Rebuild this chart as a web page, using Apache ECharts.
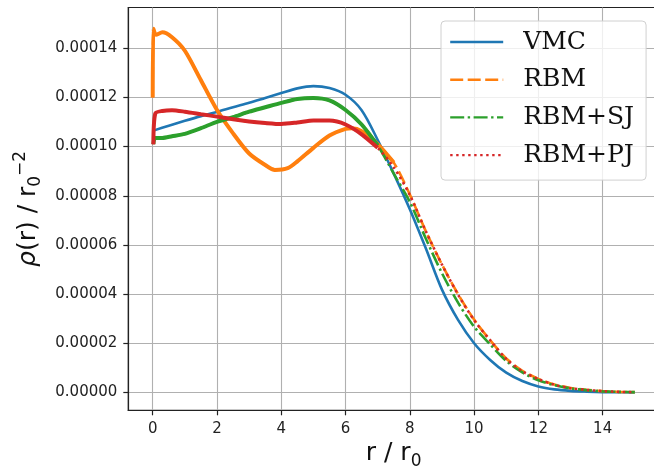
<!DOCTYPE html>
<html><head><meta charset="utf-8">
<script src="https://cdn.jsdelivr.net/npm/echarts@6/dist/echarts.min.js"></script>
<style>html,body{margin:0;padding:0;background:#fff}#c{width:654px;height:468px}</style>
</head><body><div id="c"></div>
<script>
// ---- data ----
const seriesNames = ['VMC', 'RBM', 'RBM+SJ', 'RBM+PJ'];
const xTicks = [0, 2, 4, 6, 8, 10, 12, 14];
const yTicks = [0, 0.00002, 0.00004, 0.00006, 0.00008, 0.0001, 0.00012, 0.00014];

const vmcR   = [0.02, 0.5, 1, 1.5, 2, 2.5, 3, 3.5, 4, 4.5, 5, 5.5, 6, 6.5, 7, 7.5, 8, 8.5, 9, 9.5, 10, 10.5, 11, 11.5, 12, 12.5, 13, 13.5, 14, 14.5, 15];
const vmcRho = [0.0001065, 0.0001085, 0.0001105, 0.0001124, 0.0001141, 0.000116, 0.0001178, 0.0001198, 0.0001218, 0.0001237, 0.0001246, 0.0001238, 0.0001211, 0.0001148, 0.0001027, 0.000089, 0.0000745, 0.0000585, 0.0000418, 0.0000295, 0.00002, 0.0000132, 0.000008, 0.0000046, 0.0000024, 0.0000012, 0.0000006, 0.0000003, 0.0000001, 0.00000005, 0.0];

const rbmR   = [0, 0.02, 0.1, 0.3, 0.6, 1, 1.5, 2, 2.5, 3, 3.5, 3.8, 4.2, 4.5, 5, 5.5, 6, 6.2, 6.5, 7, 7.5, 8, 8.5, 9, 9.5, 10, 10.5, 11, 11.5, 12, 12.5, 13, 13.5, 14, 14.5, 15];
const rbmRho = [0.00012, 0.000148, 0.0001455, 0.0001465, 0.0001445, 0.000139, 0.000127, 0.0001149, 0.0001054, 0.0000972, 0.0000925, 0.0000905, 0.0000912, 0.000094, 0.0000995, 0.0001045, 0.0001072, 0.0001075, 0.0001063, 0.000101, 0.0000935, 0.0000805, 0.0000655, 0.000052, 0.00004, 0.0000296, 0.0000212, 0.0000138, 0.0000088, 0.0000055, 0.0000032, 0.0000018, 0.000001, 0.0000005, 0.0000002, 0.0000001];

const sjR   = [0.02, 0.07, 0.3, 0.6, 1, 1.5, 2, 2.5, 3, 3.5, 4, 4.5, 5, 5.5, 6, 6.5, 7, 7.5, 8, 8.5, 9, 9.5, 10, 10.5, 11, 11.5, 12, 12.5, 13, 13.5, 14, 14.5, 15];
const sjRho = [0.000101, 0.0001035, 0.0001035, 0.0001042, 0.0001052, 0.0001075, 0.0001101, 0.000112, 0.0001142, 0.000116, 0.0001178, 0.0001194, 0.0001198, 0.0001188, 0.0001149, 0.000109, 0.0001005, 0.000089, 0.0000775, 0.0000625, 0.0000485, 0.0000365, 0.0000267, 0.0000195, 0.0000128, 0.0000081, 0.0000049, 0.0000029, 0.0000016, 0.0000009, 0.0000004, 0.0000002, 0.0000001];

const pjR   = [0.02, 0.08, 0.3, 0.6, 1, 1.5, 2, 2.5, 3, 3.5, 4, 4.5, 5, 5.5, 6, 6.5, 7, 7.5, 8, 8.5, 9, 9.5, 10, 10.5, 11, 11.5, 12, 12.5, 13, 13.5, 14, 14.5, 15];
const pjRho = [0.000101, 0.0001135, 0.0001145, 0.0001148, 0.0001142, 0.0001132, 0.0001122, 0.0001111, 0.0001102, 0.0001096, 0.0001092, 0.0001098, 0.0001106, 0.0001106, 0.000109, 0.000105, 0.0000995, 0.0000915, 0.0000803, 0.0000655, 0.000052, 0.0000398, 0.0000294, 0.0000212, 0.0000136, 0.0000086, 0.0000054, 0.0000031, 0.0000017, 0.000001, 0.0000005, 0.0000002, 0.0000001];

// ---- styling ----
const colors = ['#1f77b4', '#ff7f0e', '#2ca02c', '#d62728'];
function pairs(r, v, lo, hi) {
  const out = [];
  for (let i = 0; i < r.length; i++) if (r[i] >= lo && r[i] <= hi) out.push([r[i], v[i]]);
  return out;
}
function line(name, data, color, width, type, z, smooth) {
  return {
    name: name, type: 'line', data: data,
    symbol: 'none', showSymbol: false,
    smooth: smooth,
    lineStyle: { color: color, width: width, type: type, cap: 'butt' },
    itemStyle: { color: color }, z: z, animation: false, silent: true
  };
}
const series = [
  line('VMC', pairs(vmcR, vmcRho, 0, 15), colors[0], 2.6, 'solid', 2, 0.3),
  line('RBM_band', pairs(rbmR, rbmRho, 0, 7.6), colors[1], 4, 'solid', 3, 0.25),
  line('RBM', pairs(rbmR, rbmRho, 0, 15), colors[1], 2.6, [13, 4.5], 3, 0.3),
  line('SJ_band', pairs(sjR, sjRho, 0, 7.4), colors[2], 4, 'solid', 4, 0.25),
  line('RBM+SJ', pairs(sjR, sjRho, 0, 15), colors[2], 2.6, [14, 3.5, 2.4, 3.5], 4, 0.3),
  line('PJ_band', pairs(pjR, pjRho, 0, 7.3), colors[3], 4, 'solid', 5, 0.25),
  line('RBM+PJ', pairs(pjR, pjRho, 0, 15), colors[3], 2.6, [2.4, 3.6], 5, 0.3)
];

const chart = echarts.init(document.getElementById('c'), null, { renderer: 'canvas' });
const tickFont = { fontFamily: 'DejaVu Sans', fontSize: 15, color: '#222' };
chart.setOption({
  animation: false,
  backgroundColor: '#fff',
  grid: {
    left: 128.3, top: 7.5, width: 530.6, height: 402.8,
    containLabel: false, outerBoundsMode: 'none',
    show: true, borderColor: '#222', borderWidth: 1.2, backgroundColor: 'transparent'
  },
  legend: {
    data: seriesNames,
    orient: 'vertical', left: 441, top: 21,
    padding: [6, 12, 10, 8],
    itemWidth: 53, itemHeight: 14, itemGap: 7.7,
    itemStyle: { opacity: 0, color: 'rgba(0,0,0,0)', borderColor: 'rgba(0,0,0,0)', borderWidth: 0 },
    lineStyle: { width: 2.4 },
    backgroundColor: 'rgba(255,255,255,0.8)', borderColor: '#d0d0d0', borderWidth: 1, borderRadius: 4,
    textStyle: { fontFamily: 'DejaVu Serif', fontSize: 25, color: '#111', lineHeight: 30, padding: [0, 0, 0, 15] },
    selectedMode: false, z: 20
  },
  xAxis: {
    type: 'value', min: -0.76, max: 15.75, splitNumber: 8,
    axisLine: { show: true, onZero: false, lineStyle: { color: '#222', width: 1.2 } },
    axisTick: { show: true, inside: false, length: 5, lineStyle: { color: '#222', width: 1.2 }, customValues: xTicks },
    axisLabel: { show: true, margin: 11, ...tickFont, customValues: xTicks },
    splitLine: { show: true, lineStyle: { color: '#b0b0b0', width: 1.1 } },
    name: '{n|r / r}{sub|0}', nameLocation: 'middle', nameGap: 26,
    nameTextStyle: {
      rich: {
        n: { fontFamily: 'DejaVu Sans', fontSize: 25, color: '#111', lineHeight: 32 },
        sub: { fontFamily: 'DejaVu Sans', fontSize: 17, color: '#111', lineHeight: 17, verticalAlign: 'bottom' }
      }
    }
  },
  yAxis: {
    type: 'value', min: -0.0000073, max: 0.0001566, splitNumber: 8,
    axisLine: { show: true, onZero: false, lineStyle: { color: '#222', width: 1.2 } },
    axisTick: { show: true, inside: false, length: 5, lineStyle: { color: '#222', width: 1.2 }, customValues: yTicks },
    axisLabel: { show: true, margin: 11, ...tickFont, customValues: yTicks,
      formatter: v => v.toFixed(5) },
    splitLine: { show: true, lineStyle: { color: '#b0b0b0', width: 1.1 } },
    name: '{it|ρ}{n|(r) / r}{sub|0}{sup|−2}', nameLocation: 'middle', nameGap: 84, nameRotate: 90,
    nameTextStyle: {
      rich: {
        it: { fontFamily: 'DejaVu Sans', fontStyle: 'italic', fontSize: 25, color: '#111', lineHeight: 32 },
        n: { fontFamily: 'DejaVu Sans', fontSize: 25, color: '#111', lineHeight: 32 },
        sub: { fontFamily: 'DejaVu Sans', fontSize: 17, color: '#111', lineHeight: 17, verticalAlign: 'bottom' },
        sup: { fontFamily: 'DejaVu Sans', fontSize: 17, color: '#111', lineHeight: 17, verticalAlign: 'top' }
      }
    }
  },
  series: series
});
</script>
</body></html>
